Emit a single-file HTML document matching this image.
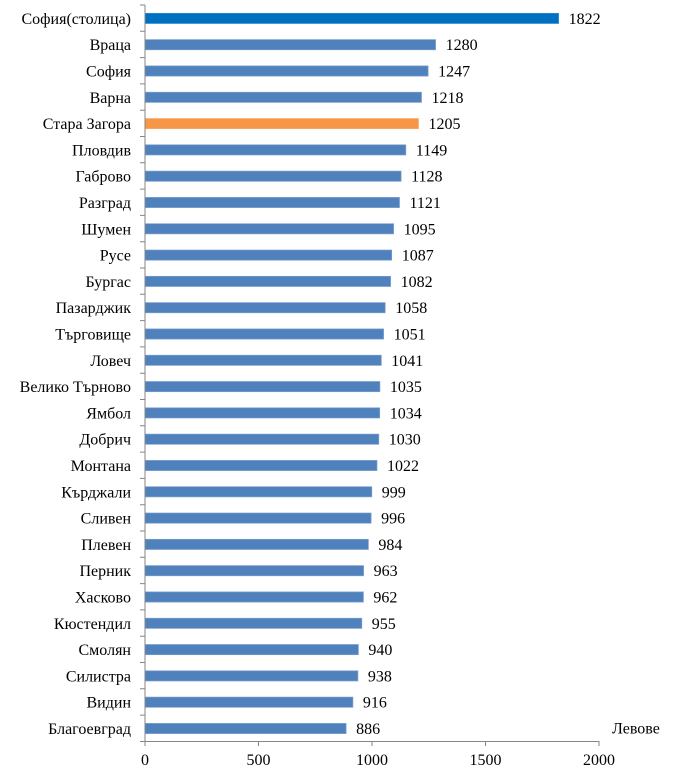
<!DOCTYPE html>
<html><head><meta charset="utf-8"><style>
html,body{margin:0;padding:0;background:#fff;}
svg{display:block;}
text{font-family:"Liberation Serif","Times New Roman",serif;font-size:16px;fill:#000;}
.c{text-anchor:end;}
.x{text-anchor:middle;}
</style></head><body>
<svg width="673" height="778" viewBox="0 0 673 778" xmlns="http://www.w3.org/2000/svg">
<g stroke="#7f9fcc" stroke-width="0.7">
<rect x="145" y="13.3" width="413.6" height="10.2" fill="#0070C0" stroke="#3a8ccf"/>
<rect x="145" y="39.6" width="290.6" height="10.2" fill="#4F81BD"/>
<rect x="145" y="65.9" width="283.1" height="10.2" fill="#4F81BD"/>
<rect x="145" y="92.2" width="276.5" height="10.2" fill="#4F81BD"/>
<rect x="145" y="118.5" width="273.5" height="10.2" fill="#F79646" stroke="#f9ad73"/>
<rect x="145" y="144.8" width="260.8" height="10.2" fill="#4F81BD"/>
<rect x="145" y="171.1" width="256.1" height="10.2" fill="#4F81BD"/>
<rect x="145" y="197.4" width="254.5" height="10.2" fill="#4F81BD"/>
<rect x="145" y="223.7" width="248.6" height="10.2" fill="#4F81BD"/>
<rect x="145" y="250" width="246.7" height="10.2" fill="#4F81BD"/>
<rect x="145" y="276.3" width="245.6" height="10.2" fill="#4F81BD"/>
<rect x="145" y="302.6" width="240.2" height="10.2" fill="#4F81BD"/>
<rect x="145" y="328.9" width="238.6" height="10.2" fill="#4F81BD"/>
<rect x="145" y="355.2" width="236.3" height="10.2" fill="#4F81BD"/>
<rect x="145" y="381.5" width="234.9" height="10.2" fill="#4F81BD"/>
<rect x="145" y="407.8" width="234.7" height="10.2" fill="#4F81BD"/>
<rect x="145" y="434.1" width="233.8" height="10.2" fill="#4F81BD"/>
<rect x="145" y="460.4" width="232.0" height="10.2" fill="#4F81BD"/>
<rect x="145" y="486.7" width="226.8" height="10.2" fill="#4F81BD"/>
<rect x="145" y="513" width="226.1" height="10.2" fill="#4F81BD"/>
<rect x="145" y="539.3" width="223.4" height="10.2" fill="#4F81BD"/>
<rect x="145" y="565.6" width="218.6" height="10.2" fill="#4F81BD"/>
<rect x="145" y="591.9" width="218.4" height="10.2" fill="#4F81BD"/>
<rect x="145" y="618.2" width="216.8" height="10.2" fill="#4F81BD"/>
<rect x="145" y="644.5" width="213.4" height="10.2" fill="#4F81BD"/>
<rect x="145" y="670.8" width="212.9" height="10.2" fill="#4F81BD"/>
<rect x="145" y="697.1" width="207.9" height="10.2" fill="#4F81BD"/>
<rect x="145" y="723.4" width="201.1" height="10.2" fill="#4F81BD"/>
</g>
<g stroke="#868686" stroke-width="1" fill="none">
<line x1="145" y1="5" x2="145" y2="742"/>
<line x1="144.5" y1="741.5" x2="599.5" y2="741.5"/>
<path d="M140 5H145M140 31.3H145M140 57.6H145M140 83.9H145M140 110.2H145M140 136.5H145M140 162.8H145M140 189.1H145M140 215.4H145M140 241.7H145M140 268H145M140 294.3H145M140 320.6H145M140 346.9H145M140 373.2H145M140 399.5H145M140 425.8H145M140 452.1H145M140 478.4H145M140 504.7H145M140 531H145M140 557.3H145M140 583.6H145M140 609.9H145M140 636.2H145M140 662.5H145M140 688.8H145M140 715.1H145M140 741.5H145"/>
<path d="M145 741.5V746M258.5 741.5V746M372 741.5V746M485.5 741.5V746M599 741.5V746"/>
</g>
<g class="c">
<text class="c" x="131" y="23.9">София(столица)</text>
<text class="c" x="131" y="50.2">Враца</text>
<text class="c" x="131" y="76.5">София</text>
<text class="c" x="131" y="102.8">Варна</text>
<text class="c" x="131" y="129.1">Стара Загора</text>
<text class="c" x="131" y="155.4">Пловдив</text>
<text class="c" x="131" y="181.7">Габрово</text>
<text class="c" x="131" y="208">Разград</text>
<text class="c" x="131" y="234.3">Шумен</text>
<text class="c" x="131" y="260.6">Русе</text>
<text class="c" x="131" y="286.9">Бургас</text>
<text class="c" x="131" y="313.2">Пазарджик</text>
<text class="c" x="131" y="339.5">Търговище</text>
<text class="c" x="131" y="365.8">Ловеч</text>
<text class="c" x="131" y="392.1">Велико Търново</text>
<text class="c" x="131" y="418.4">Ямбол</text>
<text class="c" x="131" y="444.7">Добрич</text>
<text class="c" x="131" y="471">Монтана</text>
<text class="c" x="131" y="497.3">Кърджали</text>
<text class="c" x="131" y="523.6">Сливен</text>
<text class="c" x="131" y="549.9">Плевен</text>
<text class="c" x="131" y="576.2">Перник</text>
<text class="c" x="131" y="602.5">Хасково</text>
<text class="c" x="131" y="628.8">Кюстендил</text>
<text class="c" x="131" y="655.1">Смолян</text>
<text class="c" x="131" y="681.4">Силистра</text>
<text class="c" x="131" y="707.7">Видин</text>
<text class="c" x="131" y="734">Благоевград</text>
</g>
<g>
<text x="568.6" y="23.9">1822</text>
<text x="445.6" y="50.2">1280</text>
<text x="438.1" y="76.5">1247</text>
<text x="431.5" y="102.8">1218</text>
<text x="428.5" y="129.1">1205</text>
<text x="415.8" y="155.4">1149</text>
<text x="411.1" y="181.7">1128</text>
<text x="409.5" y="208">1121</text>
<text x="403.6" y="234.3">1095</text>
<text x="401.7" y="260.6">1087</text>
<text x="400.6" y="286.9">1082</text>
<text x="395.2" y="313.2">1058</text>
<text x="393.6" y="339.5">1051</text>
<text x="391.3" y="365.8">1041</text>
<text x="389.9" y="392.1">1035</text>
<text x="389.7" y="418.4">1034</text>
<text x="388.8" y="444.7">1030</text>
<text x="387" y="471">1022</text>
<text x="381.8" y="497.3">999</text>
<text x="381.1" y="523.6">996</text>
<text x="378.4" y="549.9">984</text>
<text x="373.6" y="576.2">963</text>
<text x="373.4" y="602.5">962</text>
<text x="371.8" y="628.8">955</text>
<text x="368.4" y="655.1">940</text>
<text x="367.9" y="681.4">938</text>
<text x="362.9" y="707.7">916</text>
<text x="356.1" y="734">886</text>
</g>
<text x="612" y="733.3">Левове</text>
<g>
<text class="x" x="145" y="765">0</text>
<text class="x" x="258.5" y="765">500</text>
<text class="x" x="372" y="765">1000</text>
<text class="x" x="485.5" y="765">1500</text>
<text class="x" x="599" y="765">2000</text>
</g>
</svg>
</body></html>
